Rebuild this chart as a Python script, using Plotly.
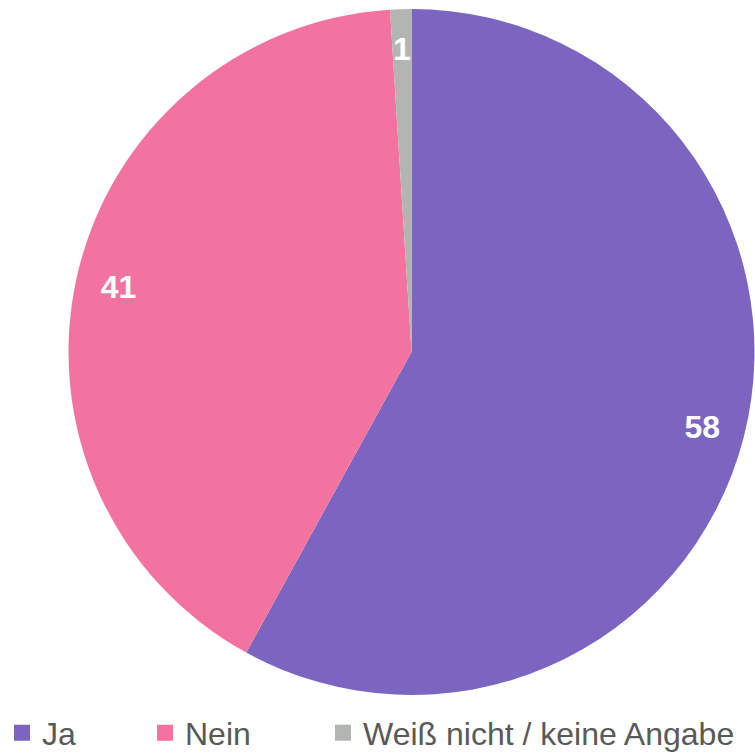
import plotly.graph_objects as go

labels = ["Ja", "Nein", "Weiß nicht / keine Angabe"]
values = [58, 41, 1]
colors = ["#7B65C0", "#F272A0", "#B3B5B3"]
legend_x = [2, 145, 323]  # pixel position of each legend entry

W, H = 755, 753
cx, cy, R = 411.5, 352, 343
dom = dict(x=[(cx - R) / W, (cx + R) / W], y=[1 - (cy + R) / H, 1 - (cy - R) / H])
rb = 313  # smaller ring for the label of the tiny slice
dom_b = dict(x=[(cx - rb) / W, (cx + rb) / W], y=[1 - (cy + rb) / H, 1 - (cy - rb) / H])

fig = go.Figure()

# main pie (slices)
fig.add_trace(go.Pie(
    labels=labels, values=values, sort=False, direction="clockwise", rotation=0,
    marker=dict(colors=colors, line=dict(width=0)),
    textinfo="none", showlegend=False, hoverinfo="label+value",
    domain=dom,
))

label_font = dict(family="Liberation Sans, Arial", size=32, color="white", weight="bold")

# transparent ring carrying the value labels of the big slices
fig.add_trace(go.Pie(
    labels=labels, values=values, sort=False, direction="clockwise", rotation=0,
    hole=0.75,
    marker=dict(colors=["rgba(0,0,0,0)"] * len(values), line=dict(width=0)),
    texttemplate=["%{value}", "%{value}", ""], textposition="inside",
    insidetextorientation="horizontal", textfont=label_font,
    showlegend=False, hoverinfo="skip",
    domain=dom,
))

# transparent ring carrying the label of the tiny slice
fig.add_trace(go.Pie(
    labels=labels, values=values, sort=False, direction="clockwise", rotation=0,
    hole=0.5,
    marker=dict(colors=["rgba(0,0,0,0)"] * len(values), line=dict(width=0)),
    texttemplate=["", "", "%{value}"], textposition="inside",
    insidetextorientation="horizontal", textfont=label_font,
    showlegend=False, hoverinfo="skip",
    domain=dom_b,
))

# legend entries
for i, (lab, col) in enumerate(zip(labels, colors)):
    lg = "legend" if i == 0 else f"legend{i+1}"
    fig.add_trace(go.Scatter(
        x=[None], y=[None], mode="markers", name=lab,
        marker=dict(symbol="square", size=16, color=col),
        legend=lg, showlegend=True, hoverinfo="skip",
    ))

legend_common = dict(
    orientation="h", xanchor="left", y=1 - 733 / H, yanchor="middle",
    font=dict(family="Liberation Sans, Arial", size=32, color="#595959"),
    bgcolor="rgba(0,0,0,0)",
)

fig.update_layout(
    width=W, height=H,
    margin=dict(l=0, r=0, t=0, b=0, autoexpand=False),
    paper_bgcolor="white", plot_bgcolor="white",
    xaxis=dict(visible=False), yaxis=dict(visible=False),
    uniformtext=dict(minsize=32, mode="show"),
    legend=dict(x=legend_x[0] / W, **legend_common),
    legend2=dict(x=legend_x[1] / W, **legend_common),
    legend3=dict(x=legend_x[2] / W, **legend_common),
)

fig.write_html("out.html", config={"displayModeBar": False},
               post_script="document.body.style.margin='0';")
